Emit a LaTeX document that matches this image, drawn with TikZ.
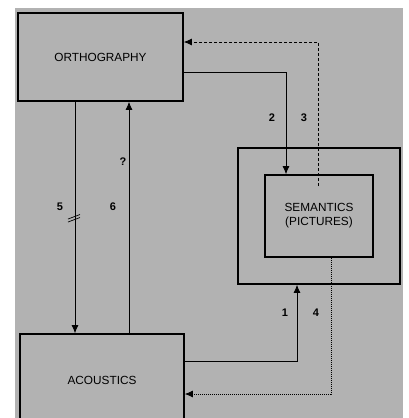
\documentclass[tikz,border=0pt]{standalone}
\usepackage{fontspec}
\setmainfont{Liberation Sans}
\usetikzlibrary{arrows.meta}
\begin{document}
\begin{tikzpicture}[x=1pt,y=-1pt,
  box/.style={draw, line width=1.6pt, rectangle, inner sep=0pt, font=\fontsize{11.8}{14}\selectfont, align=center},
  conn/.style={line width=0.8pt, -{Latex[length=8pt,width=7pt]}},
  dashconn/.style={conn, dash pattern=on 3pt off 2pt},
  dotconn/.style={conn, dash pattern=on 1pt off 1pt},
  lab/.style={font=\fontsize{11}{13}\selectfont\bfseries, inner sep=0pt}
]
\useasboundingbox (0,0) rectangle (409,418);
\fill[black!30] (15,8) rectangle (403,418);
\begin{scope}
\clip (0,0) rectangle (409,418);
\node[box, minimum width=165pt, minimum height=88pt] (ortho) at (100.5,57) {\raisebox{-3pt}{ORTHOGRAPHY}};
\node[box, minimum width=164pt, minimum height=92pt] (acou) at (102,380) {ACOUSTICS};
\node[box, minimum width=162pt, minimum height=136pt] (outer) at (319,216) {};
\node[box, minimum width=108pt, minimum height=82pt] (inner) at (319,216) {SEMANTICS\\[0pt](PICTURES)};

\coordinate (c5) at (75,0);
\coordinate (c6) at (129,0);
\coordinate (c2) at (286,72);
\coordinate (c3) at (318,186);
\coordinate (c3b) at (318,42);
\coordinate (c1) at (297,361);
\coordinate (c4) at (331,394);

\draw[conn] (ortho.south -| c5) -- (acou.north -| c5);
\draw[conn] (acou.north -| c6) -- (ortho.south -| c6);
\draw[conn] (ortho.east |- c2) -| (inner.north -| c2);
\draw[dashconn] (c3) |- (ortho.east |- c3b);
\draw[conn] (acou.east |- c1) -| (outer.south -| c1);
\draw[dotconn] (inner.south -| c4) |- (acou.east |- c4);
\end{scope}

\draw[line width=0.7pt] (68,219) -- (80,214.5);
\draw[line width=0.7pt] (68,222) -- (80,217.5);

\node[lab] (l2) at (272,118) {2};
\node[lab] (l3) at (304,118) {3};
\node[lab] (lq) at (123,162) {?};
\node[lab] (l5) at (60,207) {5};
\node[lab] (l6) at (113,207) {6};
\node[lab] (l1) at (285,313) {1};
\node[lab] (l4) at (316,313) {4};
\end{tikzpicture}
\end{document}
